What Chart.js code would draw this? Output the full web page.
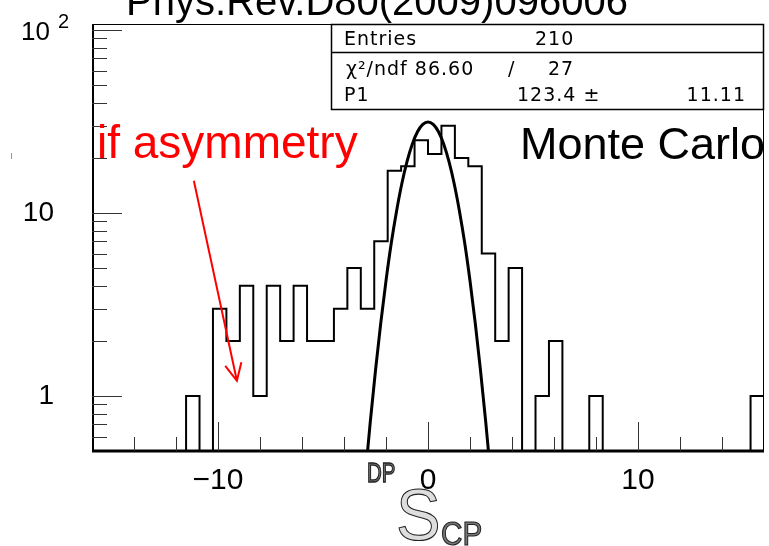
<!DOCTYPE html>
<html>
<head>
<meta charset="utf-8">
<script src="https://cdn.jsdelivr.net/npm/chart.js@4"></script>
<style>
  html, body { margin: 0; padding: 0; background: #fff; }
  canvas { display: block; }
</style>
</head>
<body>
<canvas id="grafica" width="769" height="546"></canvas>
<script>
// histogram: 50 bins from -16 to 16
const binLow = -16;
const binHigh = 16;
const counts = [
  0, 0, 0, 0, 0, 0, 0, 1, 0, 3,
  2, 4, 1, 4, 2, 4, 2, 2, 3, 5,
  3, 7, 17, 18, 25, 21, 30, 20, 18, 6,
  2, 5, 0, 1, 2, 0, 0, 1, 0, 0,
  0, 0, 0, 0, 0, 0, 0, 0, 0, 1
];

// fitted gaussian
const fitX = [-3, -2.75, -2.5, -2.25, -2, -1.75, -1.5, -1.25, -1, -0.75, -0.5, -0.25,
  0, 0.25, 0.5, 0.75, 1, 1.25, 1.5, 1.75, 2, 2.25, 2.5, 2.75, 3];
const fitY = [0.35, 0.72, 1.38, 2.5, 4.26, 6.83, 10.2, 14.4, 19.1, 23.8, 27.8, 30.5,
  31.5, 30.5, 27.8, 23.8, 19.1, 14.4, 10.2, 6.83, 4.26, 2.5, 1.38, 0.72, 0.35];

// axis ticks
const xMajor = [-10, 0, 10];
const xMinor = [-14, -12, -8, -6, -4, -2, 2, 4, 6, 8, 12, 14];
const yMajor = [1, 10, 100];
const yMinor = [0.6, 0.7, 0.8, 0.9, 2, 3, 4, 5, 6, 7, 8, 9, 20, 30, 40, 50, 60, 70, 80, 90];

// arrow (data coordinates): tail -> head
const arrowFrom = [-11.15, 15];
const arrowTo = [-9.1, 1.21];

const yMin = 0.5;
const yMax = 108;

// outline points at the low edge of each bin, empty bins sit on the axis
const binWidth = (binHigh - binLow) / counts.length;
const histPoints = counts.map((c, i) => ({ x: binLow + i * binWidth, y: c > 0 ? c : yMin }));
histPoints.push({ x: binHigh, y: yMin });
const fitPoints = fitX.map((x, i) => ({ x: x, y: fitY[i] }));

const SANS = "'Liberation Sans', Arial, sans-serif";

// outlined glyphs, squeezed horizontally by sx
function hollowText(ctx, txt, x, y, size, sx, fill) {
  ctx.save();
  ctx.translate(x, y);
  ctx.scale(sx, 1);
  ctx.font = size + "px " + SANS;
  ctx.fillStyle = fill;
  ctx.strokeStyle = "#222";
  ctx.lineWidth = 1 / sx;
  ctx.fillText(txt, 0, 0);
  ctx.strokeText(txt, 0, 0);
  ctx.restore();
}

const rootFrame = {
  id: "rootFrame",
  afterDraw(chart) {
    const ctx = chart.ctx;
    const a = chart.chartArea;
    const xs = chart.scales.x;
    const ys = chart.scales.y;
    ctx.save();

    // frame
    ctx.strokeStyle = "#000";
    ctx.lineWidth = 1;
    ctx.beginPath();
    ctx.moveTo(a.left, a.top + 0.5);
    ctx.lineTo(a.right - 0.5, a.top + 0.5);
    ctx.lineTo(a.right - 0.5, a.bottom);
    ctx.stroke();
    ctx.lineWidth = 2;
    ctx.beginPath();
    ctx.moveTo(a.left + 1, a.top);
    ctx.lineTo(a.left + 1, a.bottom);
    ctx.stroke();
    ctx.lineWidth = 3;
    ctx.beginPath();
    ctx.moveTo(a.left, a.bottom);
    ctx.lineTo(a.right, a.bottom);
    ctx.stroke();

    // y ticks
    ctx.lineWidth = 1;
    ctx.strokeStyle = "#333";
    ctx.beginPath();
    yMajor.forEach(v => {
      const y = Math.round(ys.getPixelForValue(v)) + 0.5;
      ctx.moveTo(a.left, y); ctx.lineTo(a.left + 30, y);
    });
    yMinor.forEach(v => {
      const y = Math.round(ys.getPixelForValue(v)) + 0.5;
      ctx.moveTo(a.left, y); ctx.lineTo(a.left + 15, y);
    });
    // x ticks
    xMajor.forEach(v => {
      const x = Math.round(xs.getPixelForValue(v)) + 0.5;
      ctx.moveTo(x, a.bottom); ctx.lineTo(x, a.bottom - 29);
    });
    xMinor.forEach(v => {
      const x = Math.round(xs.getPixelForValue(v)) + 0.5;
      ctx.moveTo(x, a.bottom); ctx.lineTo(x, a.bottom - 14);
    });
    ctx.stroke();

    // y labels
    ctx.fillStyle = "#000";
    ctx.textAlign = "right";
    ctx.textBaseline = "middle";
    ctx.font = "28px " + SANS;
    ctx.fillText("10", 54, ys.getPixelForValue(10));
    ctx.fillText("1", 54, ys.getPixelForValue(1));
    ctx.textAlign = "left";
    ctx.textBaseline = "alphabetic";
    ctx.font = "26px " + SANS;
    ctx.fillText("10", 21, 40);
    ctx.font = "20px " + SANS;
    ctx.fillText("2", 58, 28);

    // x labels
    ctx.textAlign = "center";
    ctx.textBaseline = "middle";
    ctx.font = "30px " + SANS;
    xMajor.forEach(v => {
      ctx.fillText(v < 0 ? "\u2212" + Math.abs(v) : String(v), xs.getPixelForValue(v), 481);
    });

    // axis title DP S CP
    ctx.textAlign = "left";
    ctx.textBaseline = "alphabetic";
    hollowText(ctx, "DP", 367, 482, 27, 0.76, "#777");
    hollowText(ctx, "S", 396, 540, 72, 0.93, "#ddd");
    hollowText(ctx, "CP", 441, 545, 33, 0.9, "#777");

    // title
    ctx.fillStyle = "#000";
    ctx.textAlign = "center";
    ctx.font = "40px " + SANS;
    ctx.fillText("Phys.Rev.D80(2009)096006", 377, 15);

    // stats box
    const bx = 331.5, by = 24.5, bw = 432, bh = 85;
    ctx.fillStyle = "#fff";
    ctx.fillRect(bx, by, bw, bh);
    ctx.strokeStyle = "#000";
    ctx.lineWidth = 1.5;
    ctx.strokeRect(bx, by, bw, bh);
    ctx.beginPath();
    ctx.moveTo(bx, 52.5); ctx.lineTo(bx + bw, 52.5);
    ctx.stroke();
    ctx.fillStyle = "#000";
    ctx.font = "19px 'DejaVu Sans', sans-serif";
    ctx.letterSpacing = "1px";
    ctx.textAlign = "left";
    ctx.fillText("Entries", 344, 45);
    ctx.fillText("210", 535, 45);
    ctx.fillText("\u03C7\u00B2/ndf 86.60", 346, 75);
    ctx.fillText("/", 508, 75);
    ctx.fillText("27", 548, 75);
    ctx.fillText("P1", 344, 101);
    ctx.fillText("123.4 \u00B1", 517, 101);
    ctx.textAlign = "right";
    ctx.fillText("11.11", 746, 101);
    ctx.letterSpacing = "0px";

    // annotations
    ctx.textAlign = "left";
    ctx.font = "46px " + SANS;
    ctx.fillStyle = "#ff0000";
    ctx.fillText("if asymmetry", 97, 158);
    ctx.font = "45px " + SANS;
    ctx.fillStyle = "#000";
    ctx.fillText("Monte Carlo", 520, 159);

    // red arrow
    const x0 = xs.getPixelForValue(arrowFrom[0]), y0 = ys.getPixelForValue(arrowFrom[1]);
    const x1 = xs.getPixelForValue(arrowTo[0]), y1 = ys.getPixelForValue(arrowTo[1]);
    const ang = Math.atan2(y1 - y0, x1 - x0);
    ctx.strokeStyle = "#ff0000";
    ctx.lineWidth = 2;
    ctx.beginPath();
    ctx.moveTo(x0, y0); ctx.lineTo(x1, y1);
    ctx.moveTo(x1 - 19 * Math.cos(ang - 0.45), y1 - 19 * Math.sin(ang - 0.45));
    ctx.lineTo(x1, y1);
    ctx.lineTo(x1 - 19 * Math.cos(ang + 0.45), y1 - 19 * Math.sin(ang + 0.45));
    ctx.stroke();

    // small stray tick at far left
    ctx.strokeStyle = "#999";
    ctx.lineWidth = 1;
    ctx.beginPath();
    ctx.moveTo(11.5, 153); ctx.lineTo(11.5, 159);
    ctx.stroke();

    ctx.restore();
  }
};

new Chart(document.getElementById("grafica").getContext("2d"), {
  type: "line",
  data: {
    datasets: [
      {
        label: "histo",
        data: histPoints,
        stepped: "before",
        borderColor: "#000",
        borderWidth: 2,
        pointRadius: 0,
        fill: false
      },
      {
        label: "fit",
        data: fitPoints,
        borderColor: "#000",
        borderWidth: 3,
        pointRadius: 0,
        cubicInterpolationMode: "monotone",
        fill: false
      }
    ]
  },
  options: {
    responsive: false,
    animation: false,
    layout: { padding: { left: 92, top: 24, right: 5, bottom: 95 } },
    plugins: { legend: { display: false }, tooltip: { enabled: false } },
    scales: {
      x: { type: "linear", min: binLow, max: binHigh, display: false },
      y: { type: "logarithmic", min: yMin, max: yMax, display: false }
    }
  },
  plugins: [rootFrame]
});
</script>
</body>
</html>
